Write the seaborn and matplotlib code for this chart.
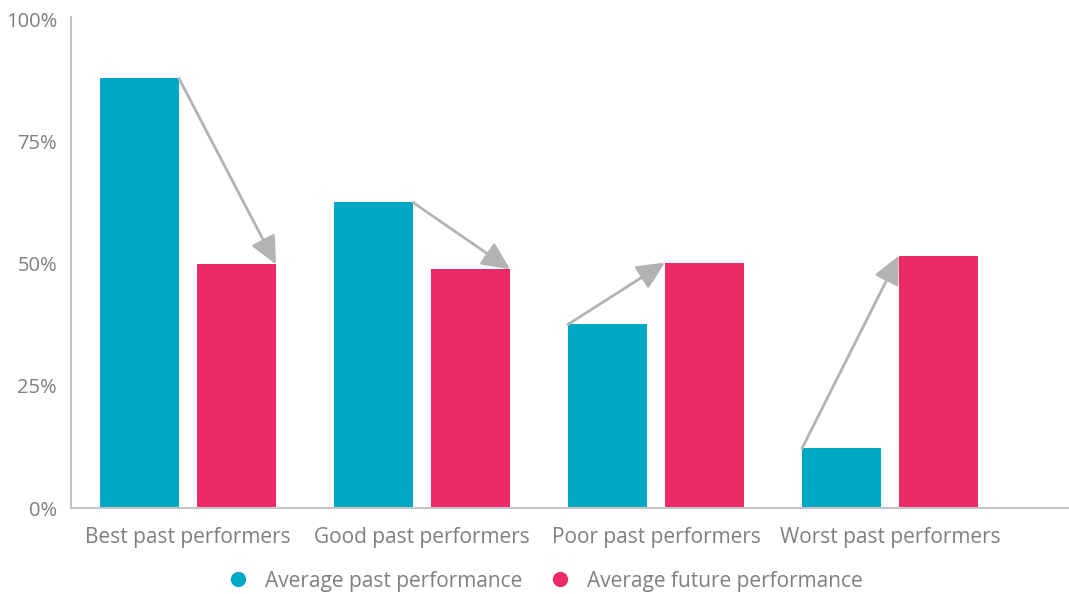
import matplotlib
matplotlib.use("Agg")
import matplotlib.pyplot as plt
import seaborn as sns
import pandas as pd
from matplotlib.lines import Line2D

categories = ["Best past performers", "Good past performers", "Poor past performers", "Worst past performers"]
past = [88.0, 62.6, 37.6, 12.2]
future = [49.9, 48.9, 50.3, 51.7]
series_names = ["Average past performance", "Average future performance"]
yticks = [0, 25, 50, 75, 100]
ytick_labels = ["0%", "25%", "50%", "75%", "100%"]

BLUE = "#00A8C6"
PINK = "#EE2A66"
GREY_TXT = "#7f7f7f"
SPINE = "#c4c4c4"
ARROW = "#b3b3b3"

df = pd.DataFrame({
    "cat": categories * 2,
    "series": [series_names[0]] * 4 + [series_names[1]] * 4,
    "val": past + future,
})

sns.set_theme(style="white")
plt.rcParams["font.family"] = ["Open Sans", "DejaVu Sans"]

fig = plt.figure(figsize=(10.69, 5.94), dpi=100)
ax = fig.add_axes([71 / 1069, 86 / 594, 1 - 71 / 1069, (508 - 17) / 594])

sns.barplot(data=df, x="cat", y="val", hue="series", order=categories,
            hue_order=series_names, palette=[BLUE, PINK], width=0.829, gap=0.185,
            saturation=1, linewidth=0, ax=ax, legend=False)

ax.set_xlim(-0.5, 3.765)
ax.set_ylim(0, 100.6)
ax.set_yticks(yticks)
ax.set_yticklabels(ytick_labels)
ax.set_xlabel("")
ax.set_ylabel("")
ax.tick_params(axis="both", length=0, colors=GREY_TXT)
ax.tick_params(axis="x", pad=14, labelsize=15)
ax.tick_params(axis="y", pad=10, labelsize=14.5)
for s in ["top", "right"]:
    ax.spines[s].set_visible(False)
for s in ["left", "bottom"]:
    ax.spines[s].set_color(SPINE)
    ax.spines[s].set_linewidth(1.5)

# arrows between bars
patches = [p for p in ax.patches if p.get_height() > 0]
blue_bars = sorted(patches[:4], key=lambda p: p.get_x())
pink_bars = sorted(patches[4:8], key=lambda p: p.get_x())
for b, p in zip(blue_bars, pink_bars):
    hb, hp = b.get_height(), p.get_height()
    if hp < hb:
        start = (b.get_x() + b.get_width(), hb)
        end = (p.get_x() + p.get_width(), hp)
    else:
        start = (b.get_x(), hb)
        end = (p.get_x(), hp)
    ax.annotate("", xy=end, xytext=start,
                arrowprops=dict(arrowstyle="-|>,head_length=0.85,head_width=0.4",
                                color=ARROW, lw=2, shrinkA=0, shrinkB=0,
                                mutation_scale=20))

handles = [Line2D([0], [0], marker="o", linestyle="", markersize=10,
                  markerfacecolor=c, markeredgecolor=c) for c in (BLUE, PINK)]
leg = fig.legend(handles, series_names, loc="center", bbox_to_anchor=(540 / 1069, 1 - 581 / 594),
                 ncol=2, frameon=False, fontsize=15, handletextpad=0.3, columnspacing=0.8)
for t in leg.get_texts():
    t.set_color(GREY_TXT)

fig.savefig("out.png", dpi=100)
